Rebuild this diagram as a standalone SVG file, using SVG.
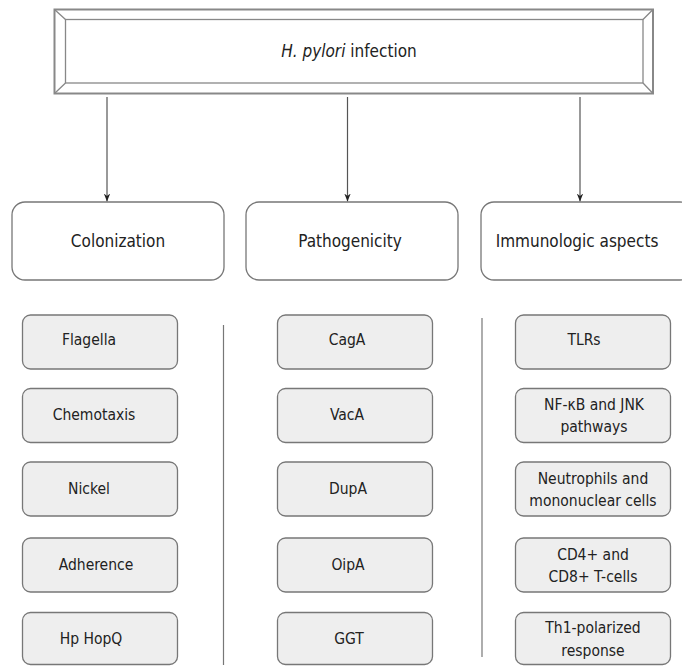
<svg xmlns="http://www.w3.org/2000/svg" width="682" height="666" viewBox="0 0 682 666">
<style>
text{font-family:"DejaVu Sans Condensed","DejaVu Sans","Liberation Sans",sans-serif;font-stretch:condensed;font-size:15.5px;fill:#222;text-anchor:middle}
text.lg{font-size:17px}
.frame{fill:none;stroke:#888;stroke-width:1.3}
.outer{fill:#fff;stroke:#888;stroke-width:2}
.big{fill:#fff;stroke:#777;stroke-width:1.3}
.small{fill:#eee;stroke:#777;stroke-width:1.3}
.conn{stroke:#555;stroke-width:1.2;fill:none}
.sep{stroke:#777;stroke-width:1.2}
</style>
<defs>
<marker id="ah" viewBox="0 0 10 10" refX="10" refY="5" markerWidth="8" markerHeight="8" markerUnits="userSpaceOnUse" orient="auto">
<path d="M0,1 L10,5 L0,9 L3,5 Z" fill="#222"/>
</marker>
</defs>
<rect width="682" height="666" fill="#fff"/>
<g id="infection">
<rect class="outer" x="54.5" y="9.5" width="598.5" height="84"/>
<rect class="frame" x="65.5" y="19.5" width="577.5" height="63.5"/>
<path class="frame" d="M54.5,9.5 L65.5,19.5 M653,9.5 L643,19.5 M54.5,93.5 L65.5,83 M653,93.5 L643,83"/>
<text class="lg" x="349" y="56.5"><tspan font-style="italic">H. pylori</tspan> infection</text>
</g>
<g id="connectors">
<line class="conn" x1="107" y1="97" x2="107" y2="201.5" marker-end="url(#ah)"/>
<line class="conn" x1="347.5" y1="97" x2="347.5" y2="201.5" marker-end="url(#ah)"/>
<line class="conn" x1="580" y1="97" x2="580" y2="201.5" marker-end="url(#ah)"/>
<line class="sep" x1="223.5" y1="325" x2="223.5" y2="665"/>
<line class="sep" x1="482" y1="318" x2="482" y2="657"/>
</g>
<g id="colonization"><rect class="big" x="12" y="202" width="212" height="78" rx="13"/><text class="lg" x="118" y="247">Colonization</text></g>
<g id="pathogenicity"><rect class="big" x="246" y="202" width="212" height="78" rx="13"/><text class="lg" x="350" y="247">Pathogenicity</text></g>
<g id="immunologic"><rect class="big" x="481" y="202" width="212" height="78" rx="13"/><text class="lg" x="577" y="247">Immunologic aspects</text></g>

<g id="flagella"><rect class="small" x="22.5" y="315" width="155" height="54" rx="8"/><text x="89" y="345">Flagella</text></g>
<g id="chemotaxis"><rect class="small" x="22.5" y="388.5" width="155" height="54" rx="8"/><text x="94" y="420">Chemotaxis</text></g>
<g id="nickel"><rect class="small" x="22.5" y="462" width="155" height="54" rx="8"/><text x="89" y="494">Nickel</text></g>
<g id="adherence"><rect class="small" x="22.5" y="538" width="155" height="54" rx="8"/><text x="96" y="570">Adherence</text></g>
<g id="hophq"><rect class="small" x="22.5" y="612.5" width="155" height="52" rx="8"/><text x="91" y="644">Hp HopQ</text></g>

<g id="caga"><rect class="small" x="277.5" y="315" width="155" height="54" rx="8"/><text x="347" y="345">CagA</text></g>
<g id="vaca"><rect class="small" x="277.5" y="388.5" width="155" height="54" rx="8"/><text x="347" y="420">VacA</text></g>
<g id="dupa"><rect class="small" x="277.5" y="462" width="155" height="54" rx="8"/><text x="348" y="494">DupA</text></g>
<g id="oipa"><rect class="small" x="277.5" y="538" width="155" height="54" rx="8"/><text x="348" y="570">OipA</text></g>
<g id="ggt"><rect class="small" x="277.5" y="612.5" width="155" height="52" rx="8"/><text x="349" y="644">GGT</text></g>

<g id="tlrs"><rect class="small" x="515.5" y="315" width="155" height="54" rx="8"/><text x="584" y="345">TLRs</text></g>
<g id="nfkb"><rect class="small" x="515.5" y="388.5" width="155" height="54" rx="8"/><text x="594" y="410">NF-κB and JNK</text><text x="594" y="432">pathways</text></g>
<g id="neutrophils"><rect class="small" x="515.5" y="462" width="155" height="54" rx="8"/><text x="593" y="484">Neutrophils and</text><text x="593" y="506">mononuclear cells</text></g>
<g id="cd4"><rect class="small" x="515.5" y="538" width="155" height="54" rx="8"/><text x="593" y="559.5">CD4+ and</text><text x="593" y="582">CD8+ T-cells</text></g>
<g id="th1"><rect class="small" x="515.5" y="612.5" width="155" height="52" rx="8"/><text x="593" y="633">Th1-polarized</text><text x="593" y="656">response</text></g>
</svg>
